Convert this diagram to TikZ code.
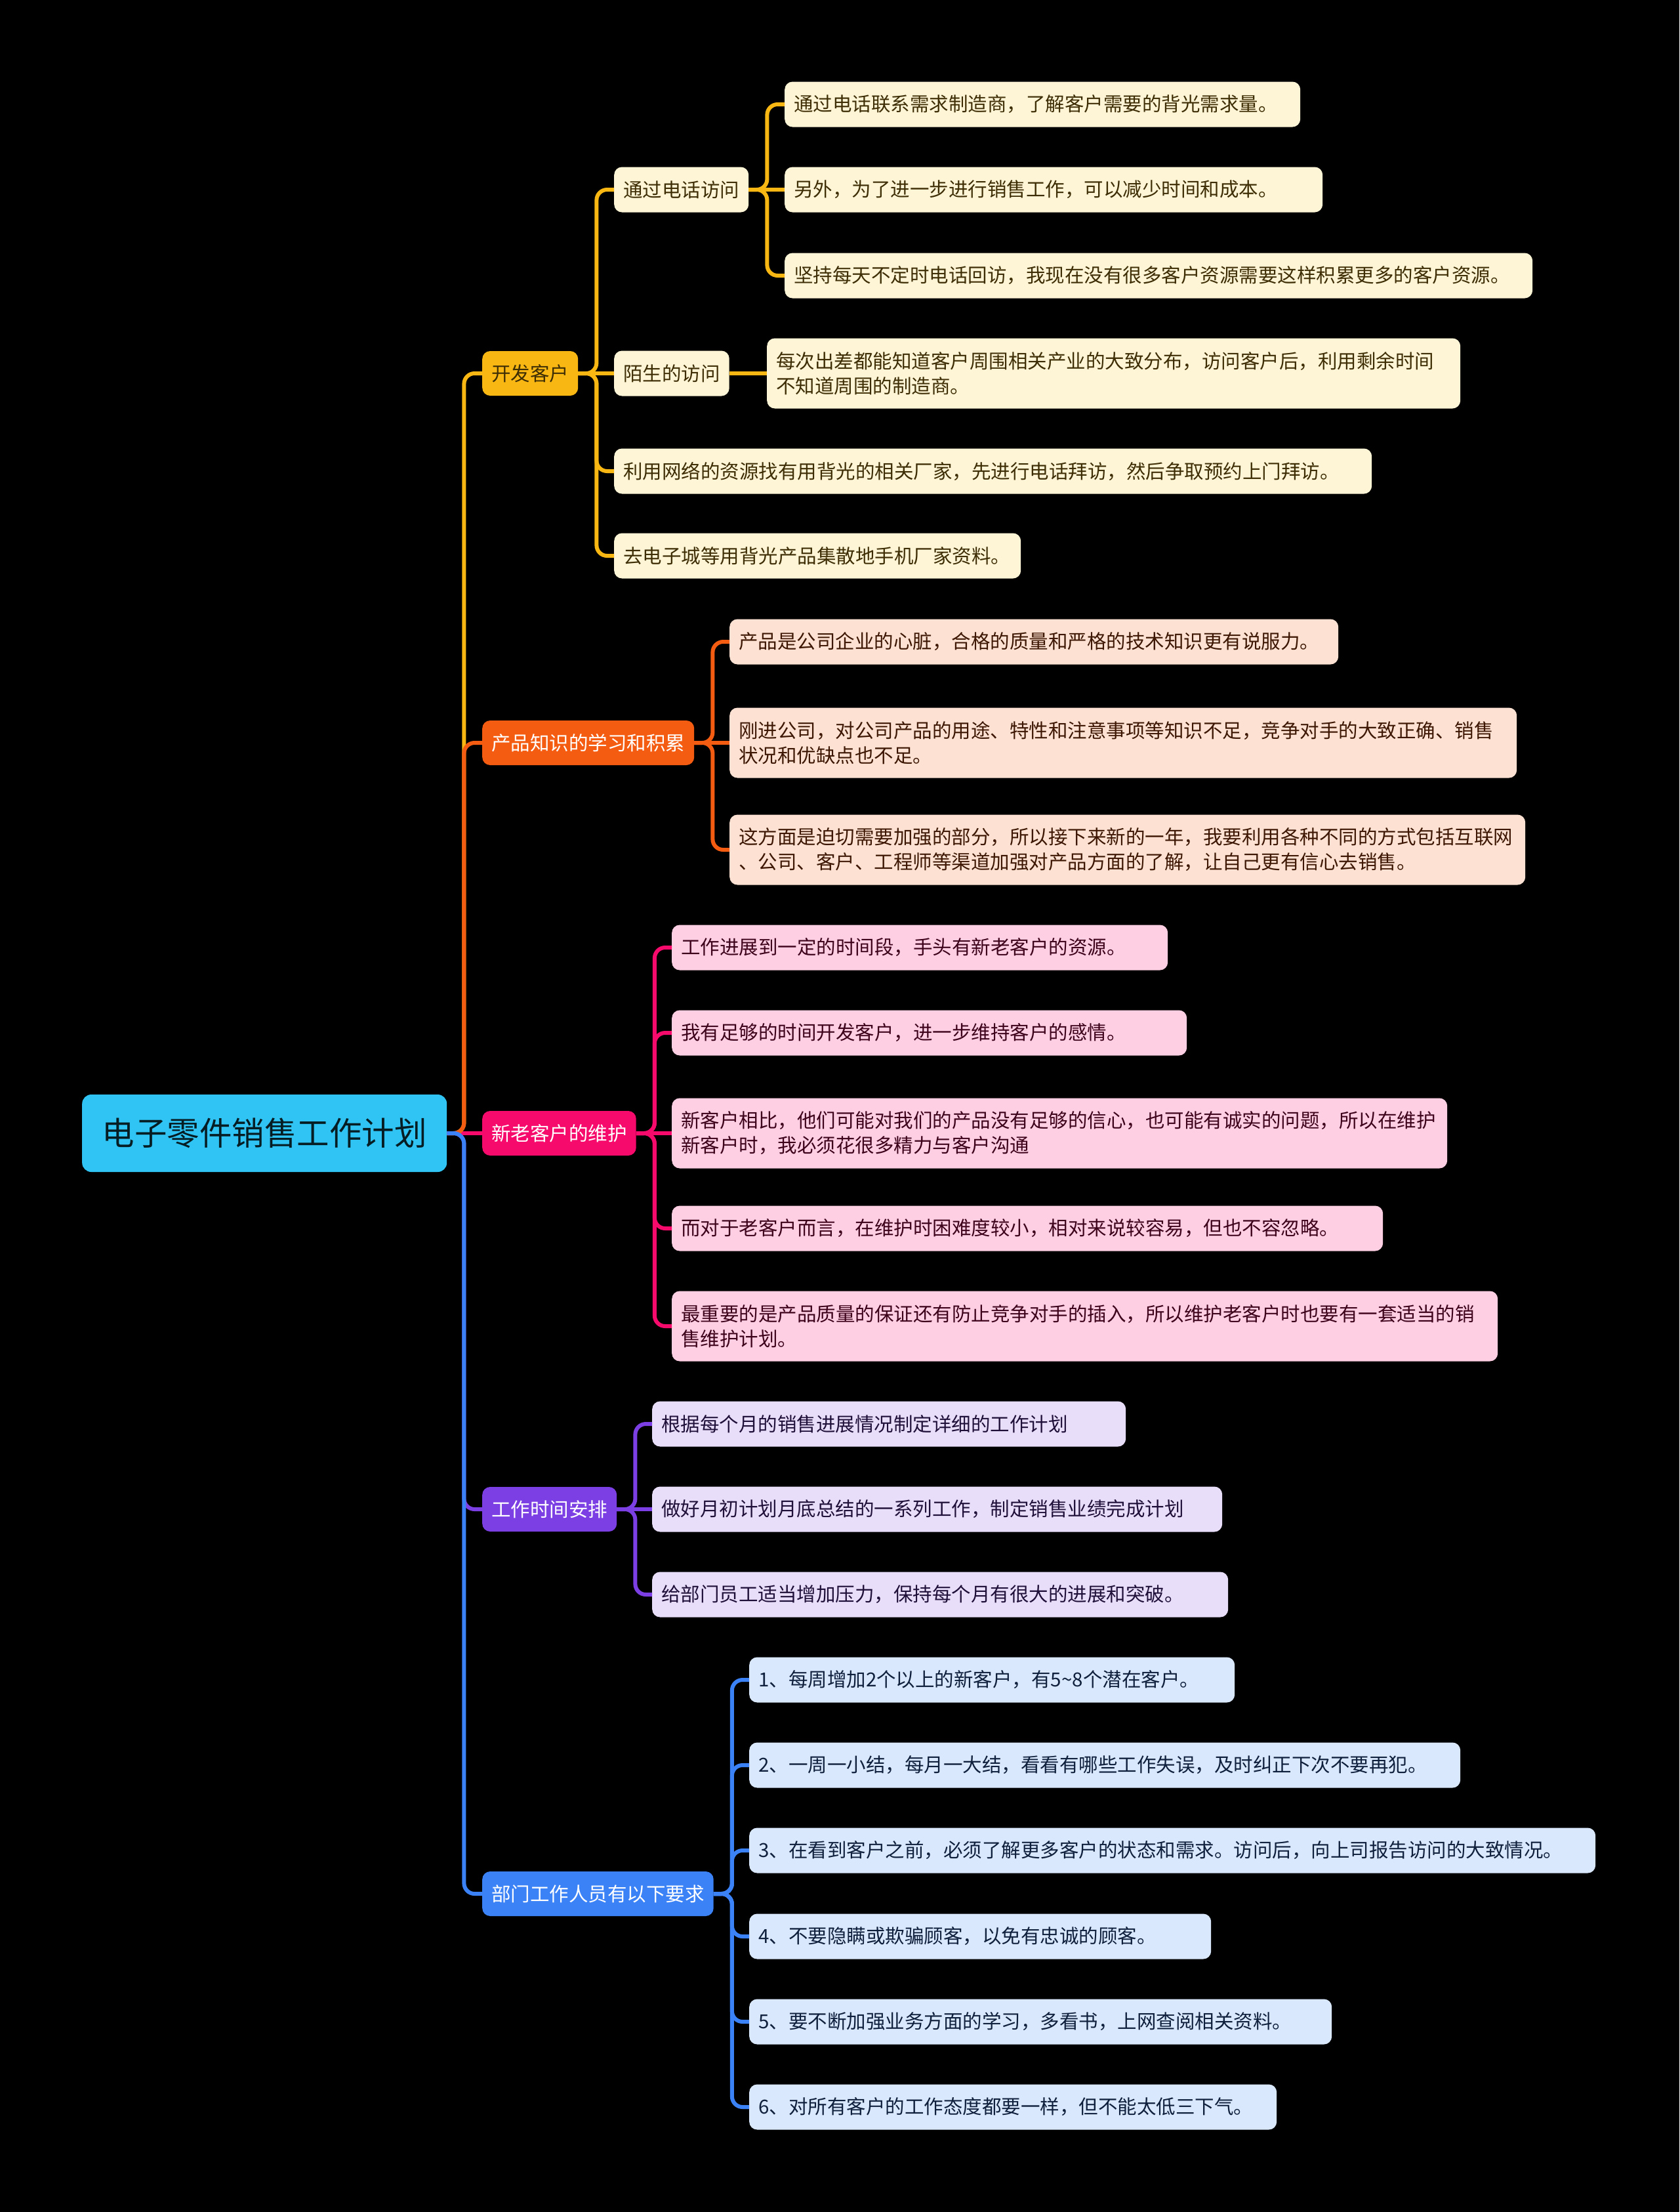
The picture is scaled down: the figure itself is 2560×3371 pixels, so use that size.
\documentclass[tikz,border=0pt]{standalone}
\usepackage{fontspec}
\setmainfont{Noto Sans CJK SC}
\usepackage{tikz}

\definecolor{rootc}{RGB}{47,196,243}
\definecolor{brY}{RGB}{248,183,18}
\definecolor{lfY}{RGB}{254,244,214}
\definecolor{brO}{RGB}{244,92,17}
\definecolor{lfO}{RGB}{253,226,211}
\definecolor{brP}{RGB}{246,10,107}
\definecolor{lfP}{RGB}{254,206,226}
\definecolor{brV}{RGB}{123,63,228}
\definecolor{lfV}{RGB}{233,222,250}
\definecolor{brB}{RGB}{59,130,246}
\definecolor{lfB}{RGB}{218,232,253}

\tikzset{
  rootbox/.style={anchor=west, fill=rootc, rounded corners=14pt, minimum width=556pt,
    minimum height=118pt, text=black!85!rootc, font=\fontsize{49.5pt}{60pt}\selectfont},
  topic/.style={anchor=west, rounded corners=12pt, inner xsep=14pt, minimum height=68pt,
    text=white, font=\fontsize{29.5pt}{38pt}\selectfont},
  leaf/.style={anchor=west, rounded corners=12pt, inner xsep=14pt, inner ysep=4pt,
    minimum height=69pt, align=left, font=\fontsize{29.5pt}{38pt}\selectfont},
  twoline/.style={minimum height=107pt},
  leafY/.style={leaf, fill=lfY, text=brY!25!black},
  leafO/.style={leaf, fill=lfO, text=brO!25!black},
  leafP/.style={leaf, fill=lfP, text=brP!25!black},
  leafV/.style={leaf, fill=lfV, text=brV!25!black},
  leafB/.style={leaf, fill=lfB, text=brB!25!black},
  conn/.style={line width=6pt, rounded corners=16pt}
}

\begin{document}
\begin{tikzpicture}[x=1pt, y=-1pt]
  \useasboundingbox (0,0) rectangle (2560,3371);
  \fill[black] (0,0) rectangle (2560,3371);

  % root
  \node[rootbox] (root) at (125,1727) {电子零件销售工作计划};

  % 开发客户
  \node[topic, fill=brY, text=brY!25!black] (kf) at (735,569) {开发客户};
  \node[leafY] (dh) at (936,289) {通过电话访问};
  \node[leafY, text width=758pt] (dh1) at (1196,159) {通过电话联系需求制造商，了解客户需要的背光需求量。};
  \node[leafY, text width=792pt] (dh2) at (1196,289) {另外，为了进一步进行销售工作，可以减少时间和成本。};
  \node[leafY, text width=1112pt] (dh3) at (1196,420) {坚持每天不定时电话回访，我现在没有很多客户资源需要这样积累更多的客户资源。};
  \node[leafY] (ms) at (936,569) {陌生的访问};
  \node[leafY, twoline, text width=1029pt] (ms1) at (1169,569) {每次出差都能知道客户周围相关产业的大致分布，访问客户后，利用剩余时间\\不知道周围的制造商。};
  \node[leafY, text width=1127pt] (kf3) at (936,718) {利用网络的资源找有用背光的相关厂家，先进行电话拜访，然后争取预约上门拜访。};
  \node[leafY, text width=592pt] (kf4) at (936,847) {去电子城等用背光产品集散地手机厂家资料。};

  % 产品知识的学习和积累
  \node[topic, fill=brO] (cp) at (735,1132) {产品知识的学习和积累};
  \node[leafO, text width=900pt] (cp1) at (1112,978) {产品是公司企业的心脏，合格的质量和严格的技术知识更有说服力。};
  \node[leafO, twoline, text width=1172pt] (cp2) at (1112,1132) {刚进公司，对公司产品的用途、特性和注意事项等知识不足，竞争对手的大致正确、销售\\状况和优缺点也不足。};
  \node[leafO, twoline, text width=1185pt] (cp3) at (1112,1295) {这方面是迫切需要加强的部分，所以接下来新的一年，我要利用各种不同的方式包括互联网\\、公司、客户、工程师等渠道加强对产品方面的了解，让自己更有信心去销售。};

  % 新老客户的维护
  \node[topic, fill=brP] (xl) at (735,1727) {新老客户的维护};
  \node[leafP, text width=728pt] (xl1) at (1024,1444) {工作进展到一定的时间段，手头有新老客户的资源。};
  \node[leafP, text width=757pt] (xl2) at (1024,1574) {我有足够的时间开发客户，进一步维持客户的感情。};
  \node[leafP, twoline, text width=1154pt] (xl3) at (1024,1727) {新客户相比，他们可能对我们的产品没有足够的信心，也可能有诚实的问题，所以在维护\\新客户时，我必须花很多精力与客户沟通};
  \node[leafP, text width=1056pt] (xl4) at (1024,1872) {而对于老客户而言，在维护时困难度较小，相对来说较容易，但也不容忽略。};
  \node[leafP, twoline, text width=1231pt] (xl5) at (1024,2021) {最重要的是产品质量的保证还有防止竞争对手的插入，所以维护老客户时也要有一套适当的销\\售维护计划。};

  % 工作时间安排
  \node[topic, fill=brV] (gz) at (735,2300) {工作时间安排};
  \node[leafV, text width=694pt] (gz1) at (994,2170) {根据每个月的销售进展情况制定详细的工作计划};
  \node[leafV, text width=841pt] (gz2) at (994,2300) {做好月初计划月底总结的一系列工作，制定销售业绩完成计划};
  \node[leafV, text width=850pt] (gz3) at (994,2430) {给部门员工适当增加压力，保持每个月有很大的进展和突破。};

  % 部门工作人员有以下要求
  \node[topic, fill=brB] (bm) at (735,2886) {部门工作人员有以下要求};
  \node[leafB, text width=712pt] (bm1) at (1142,2560) {1、每周增加2个以上的新客户，有5\textasciitilde 8个潜在客户。};
  \node[leafB, text width=1056pt] (bm2) at (1142,2690) {2、一周一小结，每月一大结，看看有哪些工作失误，及时纠正下次不要再犯。};
  \node[leafB, text width=1262pt] (bm3) at (1142,2820) {3、在看到客户之前，必须了解更多客户的状态和需求。访问后，向上司报告访问的大致情况。};
  \node[leafB, text width=676pt] (bm4) at (1142,2951) {4、不要隐瞒或欺骗顾客，以免有忠诚的顾客。};
  \node[leafB, text width=860pt] (bm5) at (1142,3081) {5、要不断加强业务方面的学习，多看书，上网查阅相关资料。};
  \node[leafB, text width=776pt] (bm6) at (1142,3211) {6、对所有客户的工作态度都要一样，但不能太低三下气。};

  % connectors
  \draw[conn, draw=brP] (root.east) -- (xl.west);
  \foreach \t/\c in {kf/brY, cp/brO, gz/brV, bm/brB}
    \draw[conn, draw=\c] (root.east) -- ++(26,0) |- (\t.west);

  \foreach \n in {dh,kf3,kf4}
    \draw[conn, draw=brY] (kf.east) -- ++(28,0) |- (\n.west);
  \draw[conn, draw=brY] (kf.east) -- (ms.west);
  \foreach \n in {dh1,dh3}
    \draw[conn, draw=brY] (dh.east) -- ++(28,0) |- (\n.west);
  \draw[conn, draw=brY] (dh.east) -- (dh2.west);
  \draw[conn, draw=brY] (ms.east) -- (ms1.west);

  \foreach \n in {cp1,cp3}
    \draw[conn, draw=brO] (cp.east) -- ++(28,0) |- (\n.west);
  \draw[conn, draw=brO] (cp.east) -- (cp2.west);

  \foreach \n in {xl1,xl2,xl4,xl5}
    \draw[conn, draw=brP] (xl.east) -- ++(28,0) |- (\n.west);
  \draw[conn, draw=brP] (xl.east) -- (xl3.west);

  \foreach \n in {gz1,gz3}
    \draw[conn, draw=brV] (gz.east) -- ++(28,0) |- (\n.west);
  \draw[conn, draw=brV] (gz.east) -- (gz2.west);

  \foreach \n in {bm1,bm2,bm3,bm4,bm5,bm6}
    \draw[conn, draw=brB] (bm.east) -- ++(28,0) |- (\n.west);
\end{tikzpicture}
\end{document}
